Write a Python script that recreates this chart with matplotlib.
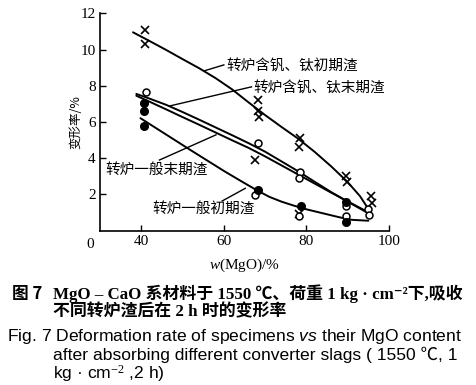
import matplotlib
matplotlib.use("Agg")
import matplotlib.pyplot as plt

plt.rcParams['font.family'] = ['Liberation Serif', 'Noto Sans CJK SC', 'DejaVu Sans']
plt.rcParams['mathtext.fontset'] = 'custom'
plt.rcParams['mathtext.rm'] = 'Liberation Serif'
plt.rcParams['mathtext.it'] = 'Liberation Serif:italic'
plt.rcParams['mathtext.sf'] = 'Liberation Sans:italic'

CJK = ['Noto Sans CJK SC', 'DejaVu Sans']

# fitted curves
xA = [38, 42, 46, 50, 54, 58, 62, 66, 70, 74, 78, 82, 86, 90, 93, 95]
yA = [10.95, 10.47, 9.98, 9.47, 8.97, 8.42, 7.8, 7.08, 6.38, 5.72, 5.08, 4.35, 3.55, 2.68, 1.9, 1.2]  # 转炉含钒、钛初期渣
xB = [38.8, 42, 46, 50, 54, 58, 62, 66, 70, 74, 78, 82, 86, 90, 94.7]
yB = [7.55, 7.29, 6.95, 6.55, 6.13, 5.7, 5.27, 4.83, 4.36, 3.82, 3.28, 2.7, 2.13, 1.6, 1.0]  # 转炉含钒、钛末期渣
xC = [38.8, 42, 46, 50, 54, 58, 62, 66, 70, 74, 78, 82, 86, 90, 94.7]
yC = [7.45, 7.12, 6.7, 6.27, 5.85, 5.42, 4.99, 4.57, 4.1, 3.6, 3.1, 2.6, 2.1, 1.62, 1.05]  # 转炉一般末期渣
xD = [39.8, 44, 48, 52, 56, 60, 64, 68, 71, 74, 77, 80, 84, 88, 91, 95]
yD = [6.21, 5.6, 5.02, 4.44, 3.87, 3.3, 2.76, 2.23, 1.87, 1.6, 1.38, 1.18, 0.96, 0.74, 0.6, 0.55]  # 转炉一般初期渣

# measured points
cross_x = [40.8, 40.8, 68.3, 68.3, 68.5, 67.6, 78.5, 78.3, 89.6, 89.8, 95.6, 95.8, 78.2]
cross_y = [11.1, 10.3, 7.2, 6.6, 6.3, 3.9, 5.1, 4.6, 3.0, 2.7, 1.9, 1.55, 0.9]
open_x = [41.2, 68.3, 78.5, 78.3, 67.5, 89.5, 89.5, 95.0, 95.2, 78.2]
open_y = [7.65, 4.85, 3.25, 2.9, 1.95, 1.35, 0.8, 1.2, 0.85, 0.8]
fill_x = [40.6, 40.6, 40.6, 68.2, 78.6, 89.5, 89.5]
fill_y = [7.05, 6.6, 5.8, 2.25, 1.35, 1.6, 0.5]

labels = ['转炉含钒、钛初期渣', '转炉含钒、钛末期渣', '转炉一般末期渣', '转炉一般初期渣']
label_pos = [(60.5, 9.05), (67.2, 7.83), (31.2, 3.35), (42.7, 1.2)]
leader_from = [(55.2, 8.82), (46.8, 6.88), (44.4, 3.9), (59.6, 1.64)]
leader_to = [(60.0, 9.15), (66.7, 7.94), (58.1, 5.29), (65.2, 2.34)]

xticks = [40, 60, 80, 100]
yticks = [2, 4, 6, 8, 10, 12]

fig = plt.figure(figsize=(4.77, 3.85), dpi=100)
ax = fig.add_axes([0.2096, 0.4008, 0.6059, 0.5647])

for xs, ys in [(xA, yA), (xB, yB), (xC, yC), (xD, yD)]:
    ax.plot(xs, ys, color='black', lw=1.4, solid_capstyle='round', solid_joinstyle='round')

ax.plot(cross_x, cross_y, 'x', color='black', ms=6, mew=1.2)
ax.plot(open_x, open_y, 'o', mfc='white', mec='black', ms=5, mew=1.1)
ax.plot(fill_x, fill_y, 'o', color='black', ms=5.5)

for lab, (tx, ty), p0, p1 in zip(labels, label_pos, leader_from, leader_to):
    ax.text(tx, ty, lab, family=CJK, fontsize=10.5, ha='left', va='center')
    ax.plot([p0[0], p1[0]], [p0[1], p1[1]], color='black', lw=1.0, clip_on=False)

ax.set_xlim(30, 100)
ax.set_ylim(0, 12)
ax.set_xticks(xticks)
ax.set_yticks(yticks)
ax.tick_params(direction='in', length=4, width=1, labelsize=11, pad=3)
for s in ['top', 'right']:
    ax.spines[s].set_visible(False)
for s in ['left', 'bottom']:
    ax.spines[s].set_linewidth(1.2)
ax.text(27.6, -0.4, '0', fontsize=11, ha='center', va='top')

ax.set_ylabel('变形率/%', family=CJK, fontsize=9, labelpad=-1)
ax.set_xlabel('$w$(MgO)/%', fontsize=11, labelpad=6)

# caption
fig.text(12 / 477, 1 - 294 / 385, '图 7', family=CJK, fontsize=12, weight='bold', va='center')
fig.text(53 / 477, 1 - 294 / 385, 'MgO – CaO 系材料于 1550 ℃、荷重 1 kg · cm⁻²下,吸收',
         fontsize=12.2, weight='bold', va='center')
fig.text(53 / 477, 1 - 312 / 385, '不同转炉渣后在 2 h 时的变形率',
         fontsize=12.2, weight='bold', va='center')
sans = ['Liberation Sans', 'Noto Sans CJK SC', 'DejaVu Sans']
fig.text(7 / 477, 1 - 337 / 385, r'Fig. 7 Deformation rate of specimens $\mathsf{vs}$ their MgO content',
         family=sans, fontsize=12.6, va='center')
fig.text(53 / 477, 1 - 355 / 385, 'after absorbing different converter slags ( 1550 ℃, 1',
         family=sans, fontsize=12.6, va='center')
fig.text(53 / 477, 1 - 374 / 385, 'kg · cm$^{-2}$ ,2 h)',
         family=sans, fontsize=12.6, va='center')

fig.savefig('out.png', dpi=100)
